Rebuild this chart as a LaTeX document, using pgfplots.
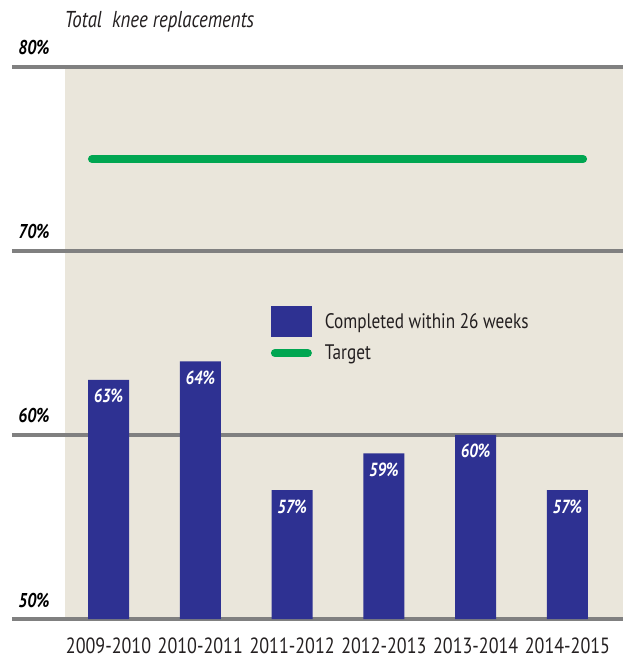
\documentclass[border=0pt]{standalone}
\usepackage{fontspec}
\setmainfont{PT Sans}[FakeStretch=0.82]
\usepackage{pgfplots}
\pgfplotsset{compat=1.18}

\definecolor{barblue}{RGB}{46,49,146}
\definecolor{targetgreen}{RGB}{0,166,81}
\definecolor{panel}{RGB}{234,230,219}
\definecolor{rulegray}{RGB}{128,128,128}
\definecolor{ink}{RGB}{35,31,32}

\pgfplotstableread{
x  pct
0  63
1  64
2  57
3  59
4  60
5  57
}\completed

\pgfplotstableread{
x     pct
-0.18 75
5.17  75
}\target

\begin{document}
\begin{tikzpicture}
\useasboundingbox (-65pt,-41pt) rectangle (558pt,619pt);
\begin{axis}[
  at={(0pt,0pt)}, anchor=south west,
  scale only axis, width=558pt, height=552pt,
  xmin=-0.474, xmax=5.605, ymin=50, ymax=80,
  clip=false,
  axis line style={draw=none},
  axis background/.style={fill=panel},
  ytick=\empty,
  xtick={0,...,5},
  xticklabels={2009-2010,2010-2011,2011-2012,2012-2013,2013-2014,2014-2015},
  major tick length=0pt,
  xticklabel style={font=\fontsize{22}{22}\selectfont, text=ink, anchor=base, yshift=-34pt},
  legend style={at={(rel axis cs:0.369,0.567)}, anchor=north west,
    draw=none, fill=none, inner sep=0pt, outer sep=0pt,
    nodes={inner sep=0pt}, column sep=13pt, row sep=8pt,
    font=\fontsize{21}{21}\selectfont, text=ink},
  legend cell align=left,
]
  % horizontal rules with their labels
  \foreach \v in {50,60,70,80} {
    \edef\temp{\noexpand\draw[rulegray, line width=4pt]
      ([xshift=-53pt]axis cs:-0.474,\v) -- (axis cs:5.605,\v);
      \noexpand\node[anchor=base east, text=black,
        font=\noexpand\fontsize{20}{20}\noexpand\selectfont\noexpand\bfseries\noexpand\itshape]
        at ([xshift=-12pt,yshift=12pt]axis cs:-0.474,\v) {\v\noexpand\%};}
    \temp
  }
  \node[anchor=base west, text=ink, font=\fontsize{23}{23}\selectfont\itshape]
    at ([xshift=-4pt,yshift=39pt]rel axis cs:0,1) {Total\ \ knee replacements};

  \addplot[ybar, bar width=41pt, fill=barblue, draw=none,
    legend image code/.code={\fill[barblue] (0pt,-15.5pt) rectangle (41pt,15.5pt);},
    nodes near coords={\pgfmathprintnumber[assume math mode=true]{\pgfplotspointmeta}\%},
    every node near coord/.append style={anchor=base, yshift=-23pt,
      text=white, font=\fontsize{19}{19}\selectfont\bfseries\itshape}]
    table[x=x, y=pct] {\completed};
  \addlegendentry{Completed within 26 weeks}

  \addplot[targetgreen, line width=8pt, line cap=round,
    legend image code/.code={\draw[targetgreen, line width=8pt, line cap=round] (4pt,0pt) -- (37pt,0pt);}]
    table[x=x, y=pct] {\target};
  \addlegendentry{Target}
\end{axis}
\end{tikzpicture}
\end{document}
